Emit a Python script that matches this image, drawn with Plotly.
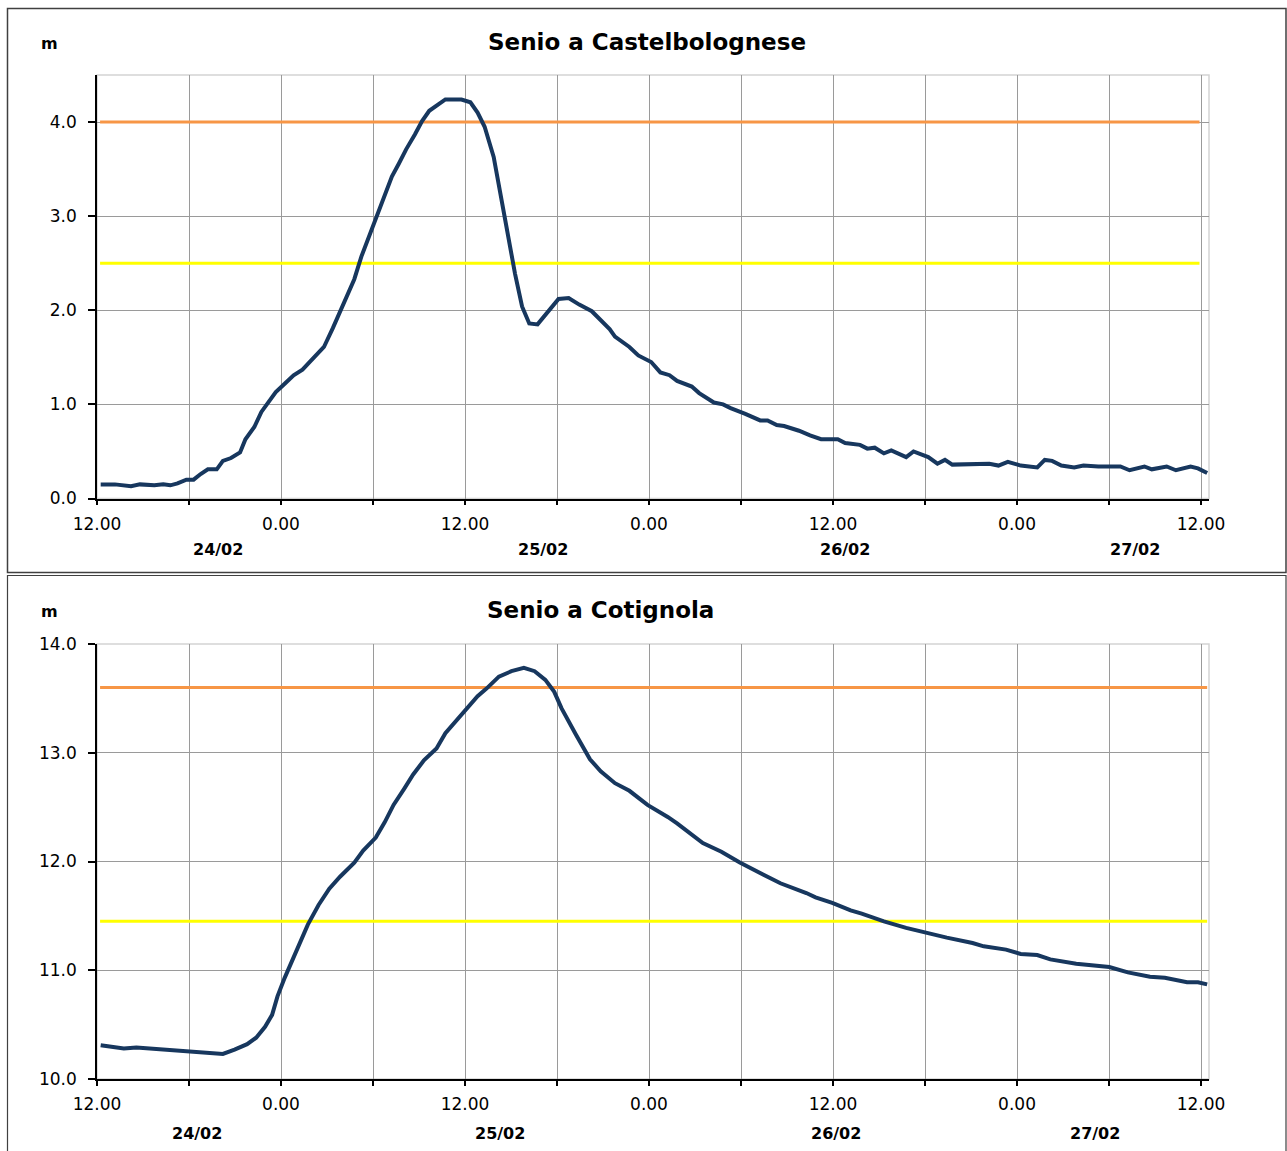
import plotly.graph_objects as go

# ---------------- data ----------------
titles = ["Senio a Castelbolognese", "Senio a Cotignola"]
unit_label = "m"

hour_ticks = [0, 6, 12, 18, 24, 30, 36, 42, 48, 54, 60, 66, 72]
hour_tick_labels = ["12.00", "", "0.00", "", "12.00", "", "0.00", "", "12.00", "", "0.00", "", "12.00"]
day_labels = ["24/02", "25/02", "26/02", "27/02"]

castel_ticks = [0, 1, 2, 3, 4]
castel_tick_labels = ["0.0", "1.0", "2.0", "3.0", "4.0"]
cotignola_ticks = [10, 11, 12, 13, 14]
cotignola_tick_labels = ["10.0", "11.0", "12.0", "13.0", "14.0"]

# (hours since 23/02 12:00, level m)
castel_readings = [
    (0.24, 0.15), (1.17, 0.15), (2.22, 0.13), (2.80, 0.15), (3.74, 0.14), (4.32, 0.15),
    (4.78, 0.14), (5.25, 0.16), (5.83, 0.20), (6.30, 0.20), (6.76, 0.26), (7.23, 0.31),
    (7.81, 0.31), (8.21, 0.40), (8.74, 0.43), (9.33, 0.49), (9.68, 0.63), (10.26, 0.76),
    (10.72, 0.92), (11.19, 1.03), (11.66, 1.13), (12.24, 1.22), (12.82, 1.31), (13.40, 1.37),
    (14.10, 1.49), (14.80, 1.61), (15.38, 1.81), (15.85, 1.99), (16.31, 2.14), (16.78, 2.33),
    (17.24, 2.57), (17.94, 2.87), (18.64, 3.17), (19.23, 3.42), (19.69, 3.56), (20.16, 3.71),
    (20.74, 3.87), (21.20, 4.01), (21.67, 4.12), (22.25, 4.18), (22.72, 4.24), (23.77, 4.24),
    (24.35, 4.21), (24.82, 4.10), (25.28, 3.95), (25.87, 3.63), (26.56, 3.00), (27.26, 2.39),
    (27.72, 2.04), (28.19, 1.86), (28.73, 1.85), (29.36, 1.98), (30.10, 2.12), (30.76, 2.13),
    (31.45, 2.06), (32.27, 1.99), (32.85, 1.89), (33.43, 1.80), (33.78, 1.72), (34.72, 1.61),
    (35.30, 1.52), (36.14, 1.45), (36.74, 1.34), (37.34, 1.31), (37.83, 1.25), (38.79, 1.19),
    (39.27, 1.12), (40.23, 1.02), (40.83, 1.00), (41.32, 0.96), (42.28, 0.90), (43.25, 0.83),
    (43.73, 0.83), (44.33, 0.78), (44.81, 0.77), (45.78, 0.72), (46.50, 0.67), (47.22, 0.63),
    (48.31, 0.63), (48.79, 0.59), (49.76, 0.57), (50.24, 0.53), (50.72, 0.54), (51.32, 0.48),
    (51.80, 0.51), (52.77, 0.44), (53.25, 0.50), (54.21, 0.44), (54.81, 0.37), (55.30, 0.41),
    (55.78, 0.36), (56.62, 0.36), (57.35, 0.36), (58.19, 0.37), (58.79, 0.35), (59.40, 0.39),
    (60.24, 0.35), (61.32, 0.33), (61.81, 0.41), (62.29, 0.40), (62.89, 0.35), (63.73, 0.33),
    (64.33, 0.35), (65.30, 0.34), (66.74, 0.34), (67.34, 0.30), (68.31, 0.34), (68.79, 0.31),
    (69.76, 0.34), (70.36, 0.30), (71.32, 0.34), (71.80, 0.32), (72.40, 0.27),
]

cotignola_readings = [
    (0.24, 10.31), (1.75, 10.28), (2.57, 10.29), (3.62, 10.28), (4.43, 10.27), (5.25, 10.26),
    (6.07, 10.25), (7.23, 10.24), (8.21, 10.23), (8.97, 10.27), (9.79, 10.32), (10.38, 10.38),
    (10.96, 10.48), (11.42, 10.59), (11.77, 10.76), (12.24, 10.93), (12.70, 11.08), (13.29, 11.25),
    (13.75, 11.42), (14.45, 11.60), (15.15, 11.75), (15.85, 11.86), (16.78, 11.99), (17.36, 12.10),
    (18.18, 12.22), (18.76, 12.36), (19.34, 12.52), (20.04, 12.67), (20.62, 12.80), (21.32, 12.93),
    (22.14, 13.04), (22.72, 13.18), (23.77, 13.35), (24.35, 13.43), (24.82, 13.52), (25.40, 13.59),
    (26.21, 13.70), (27.03, 13.75), (27.84, 13.78), (28.54, 13.75), (29.24, 13.67), (29.82, 13.56),
    (30.29, 13.41), (31.22, 13.17), (32.15, 12.94), (32.85, 12.83), (33.78, 12.72), (34.72, 12.65),
    (35.41, 12.57), (35.90, 12.52), (37.22, 12.41), (37.83, 12.35), (39.51, 12.17), (40.72, 12.09),
    (41.92, 11.99), (43.13, 11.90), (44.57, 11.80), (46.26, 11.71), (46.86, 11.67), (47.95, 11.62),
    (49.15, 11.55), (49.87, 11.52), (51.32, 11.45), (52.77, 11.39), (54.21, 11.34), (55.42, 11.30),
    (57.10, 11.25), (57.83, 11.22), (59.28, 11.19), (60.24, 11.15), (61.32, 11.14), (62.17, 11.10),
    (63.86, 11.06), (64.58, 11.05), (66.02, 11.03), (67.23, 10.98), (68.67, 10.94), (69.64, 10.93),
    (71.09, 10.89), (71.80, 10.89), (72.40, 10.87),
]

castel_thresholds = [4.0, 2.5]          # orange, yellow
cotignola_thresholds = [13.6, 11.45]    # orange, yellow
castel_threshold_span = [0.2, 71.9]
cotignola_threshold_span = [0.2, 72.4]

# ---------------- layout helpers ----------------
W, H = 1287, 1151
def fx(p):
    return p / W
def fy(p):
    return 1 - p / H

FONT = "DejaVu Sans"
NAVY = "#17375E"
ORANGE = "#F79646"
YELLOW = "#FFFF00"
GRID = "#9a9a9a"
AX = "#000000"

x_dom = [fx(97), fx(1209)]
top_dom = [fy(498.5), fy(75)]
bot_dom = [fy(1079), fy(644)]
x_range = [0, 72.52]

day_pos_top = [7.9, 29.1, 48.8, 67.7]
day_pos_bot = [6.5, 26.3, 48.2, 65.1]

fig = go.Figure()

def add_panel(readings, thresholds, span, xa, ya):
    hrs = [r[0] for r in readings]
    lvl = [r[1] for r in readings]
    for val, col in zip(thresholds, [ORANGE, YELLOW]):
        fig.add_trace(go.Scatter(x=span, y=[val, val], mode="lines",
                                 line=dict(color=col, width=3),
                                 xaxis=xa, yaxis=ya, hoverinfo="skip", showlegend=False))
    fig.add_trace(go.Scatter(x=hrs, y=lvl, mode="lines",
                             line=dict(color=NAVY, width=4),
                             xaxis=xa, yaxis=ya, showlegend=False))

add_panel(castel_readings, castel_thresholds, castel_threshold_span, "x", "y")
add_panel(cotignola_readings, cotignola_thresholds, cotignola_threshold_span, "x2", "y2")

def xaxis_def(anchor):
    return dict(domain=x_dom, range=x_range, anchor=anchor, automargin=False,
                tickmode="array", tickvals=hour_ticks, ticktext=hour_tick_labels,
                ticks="outside", ticklen=5, tickwidth=1.5, tickcolor=AX,
                showline=True, linecolor=AX, linewidth=1.5,
                showgrid=True, gridcolor=GRID, gridwidth=1, zeroline=False,
                tickfont=dict(family=FONT, size=17, color="#000"),
                ticklabelstandoff=4)

def xaxis_overlay(over, anchor):
    return dict(domain=x_dom, range=x_range, anchor=anchor, overlaying=over, automargin=False,
                tickmode="array", tickvals=hour_ticks, showticklabels=False,
                ticks="inside", ticklen=5, tickwidth=1.5, tickcolor=AX,
                showline=False, showgrid=False, zeroline=False)

def yaxis_def(dom, rng, tv, tt, anchor):
    return dict(domain=dom, range=rng, anchor=anchor, automargin=False,
                tickmode="array", tickvals=tv, ticktext=tt,
                ticks="outside", ticklen=7, tickwidth=1.5, tickcolor=AX,
                showline=True, linecolor=AX, linewidth=1.5,
                showgrid=True, gridcolor=GRID, gridwidth=1, zeroline=False,
                tickfont=dict(family=FONT, size=17, color="#000"),
                ticklabelstandoff=8)

def yaxis_overlay(dom, rng, tv, over, anchor):
    return dict(domain=dom, range=rng, anchor=anchor, overlaying=over, automargin=False,
                tickmode="array", tickvals=tv, showticklabels=False,
                ticks="inside", ticklen=6, tickwidth=1.5, tickcolor=AX,
                showline=False, showgrid=False, zeroline=False)

fig.update_layout(
    width=W, height=H, margin=dict(l=0, r=0, t=0, b=0, autoexpand=False),
    paper_bgcolor="white", plot_bgcolor="white", showlegend=False,
    xaxis=xaxis_def("y"),
    xaxis2=xaxis_def("y2"),
    yaxis=yaxis_def(top_dom, [0, 4.5], castel_ticks, castel_tick_labels, "x"),
    yaxis2=yaxis_def(bot_dom, [10, 14], cotignola_ticks, cotignola_tick_labels, "x2"),
    xaxis3=xaxis_overlay("x", "y"),
    xaxis4=xaxis_overlay("x2", "y2"),
    yaxis3=yaxis_overlay(top_dom, [0, 4.5], castel_ticks, "y", "x"),
    yaxis4=yaxis_overlay(bot_dom, [10, 14], cotignola_ticks, "y2", "x2"),
)

shapes = [
    # panel frames
    dict(type="rect", xref="paper", yref="paper", x0=fx(7.5), x1=fx(1286), y0=fy(572.5), y1=fy(8.5),
         line=dict(color="#404040", width=1.5), layer="below"),
    dict(type="rect", xref="paper", yref="paper", x0=fx(7.5), x1=fx(1286), y0=fy(1160), y1=fy(575.5),
         line=dict(color="#404040", width=1.2), layer="below"),
    # light plot-area borders
    dict(type="rect", xref="x domain", yref="y domain", x0=0, x1=1, y0=0, y1=1,
         line=dict(color="#d4d4d4", width=1.5), layer="below"),
    dict(type="rect", xref="x2 domain", yref="y2 domain", x0=0, x1=1, y0=0, y1=1,
         line=dict(color="#d4d4d4", width=1.5), layer="below"),
]
fig.update_layout(shapes=shapes)

ann = []
ann.append(dict(text="<b>%s</b>" % titles[0], x=fx(647), y=fy(42), xref="paper", yref="paper",
                showarrow=False, xanchor="center", yanchor="middle",
                font=dict(family=FONT, size=23, color="#000")))
ann.append(dict(text="<b>%s</b>" % titles[1], x=fx(600), y=fy(610), xref="paper", yref="paper",
                showarrow=False, xanchor="center", yanchor="middle",
                font=dict(family=FONT, size=23, color="#000")))
for yy in (44, 611):
    ann.append(dict(text="<b>%s</b>" % unit_label, x=fx(49.5), y=fy(yy), xref="paper", yref="paper",
                    showarrow=False, xanchor="center", yanchor="middle",
                    font=dict(family=FONT, size=16, color="#000")))
for lab, xp in zip(day_labels, day_pos_top):
    ann.append(dict(text="<b>%s</b>" % lab, x=xp, y=fy(550), xref="x", yref="paper",
                    showarrow=False, xanchor="center", yanchor="middle",
                    font=dict(family=FONT, size=16, color="#000")))
for lab, xp in zip(day_labels, day_pos_bot):
    ann.append(dict(text="<b>%s</b>" % lab, x=xp, y=fy(1133), xref="x2", yref="paper",
                    showarrow=False, xanchor="center", yanchor="middle",
                    font=dict(family=FONT, size=16, color="#000")))
fig.update_layout(annotations=ann)

fig.write_html("out.html")
